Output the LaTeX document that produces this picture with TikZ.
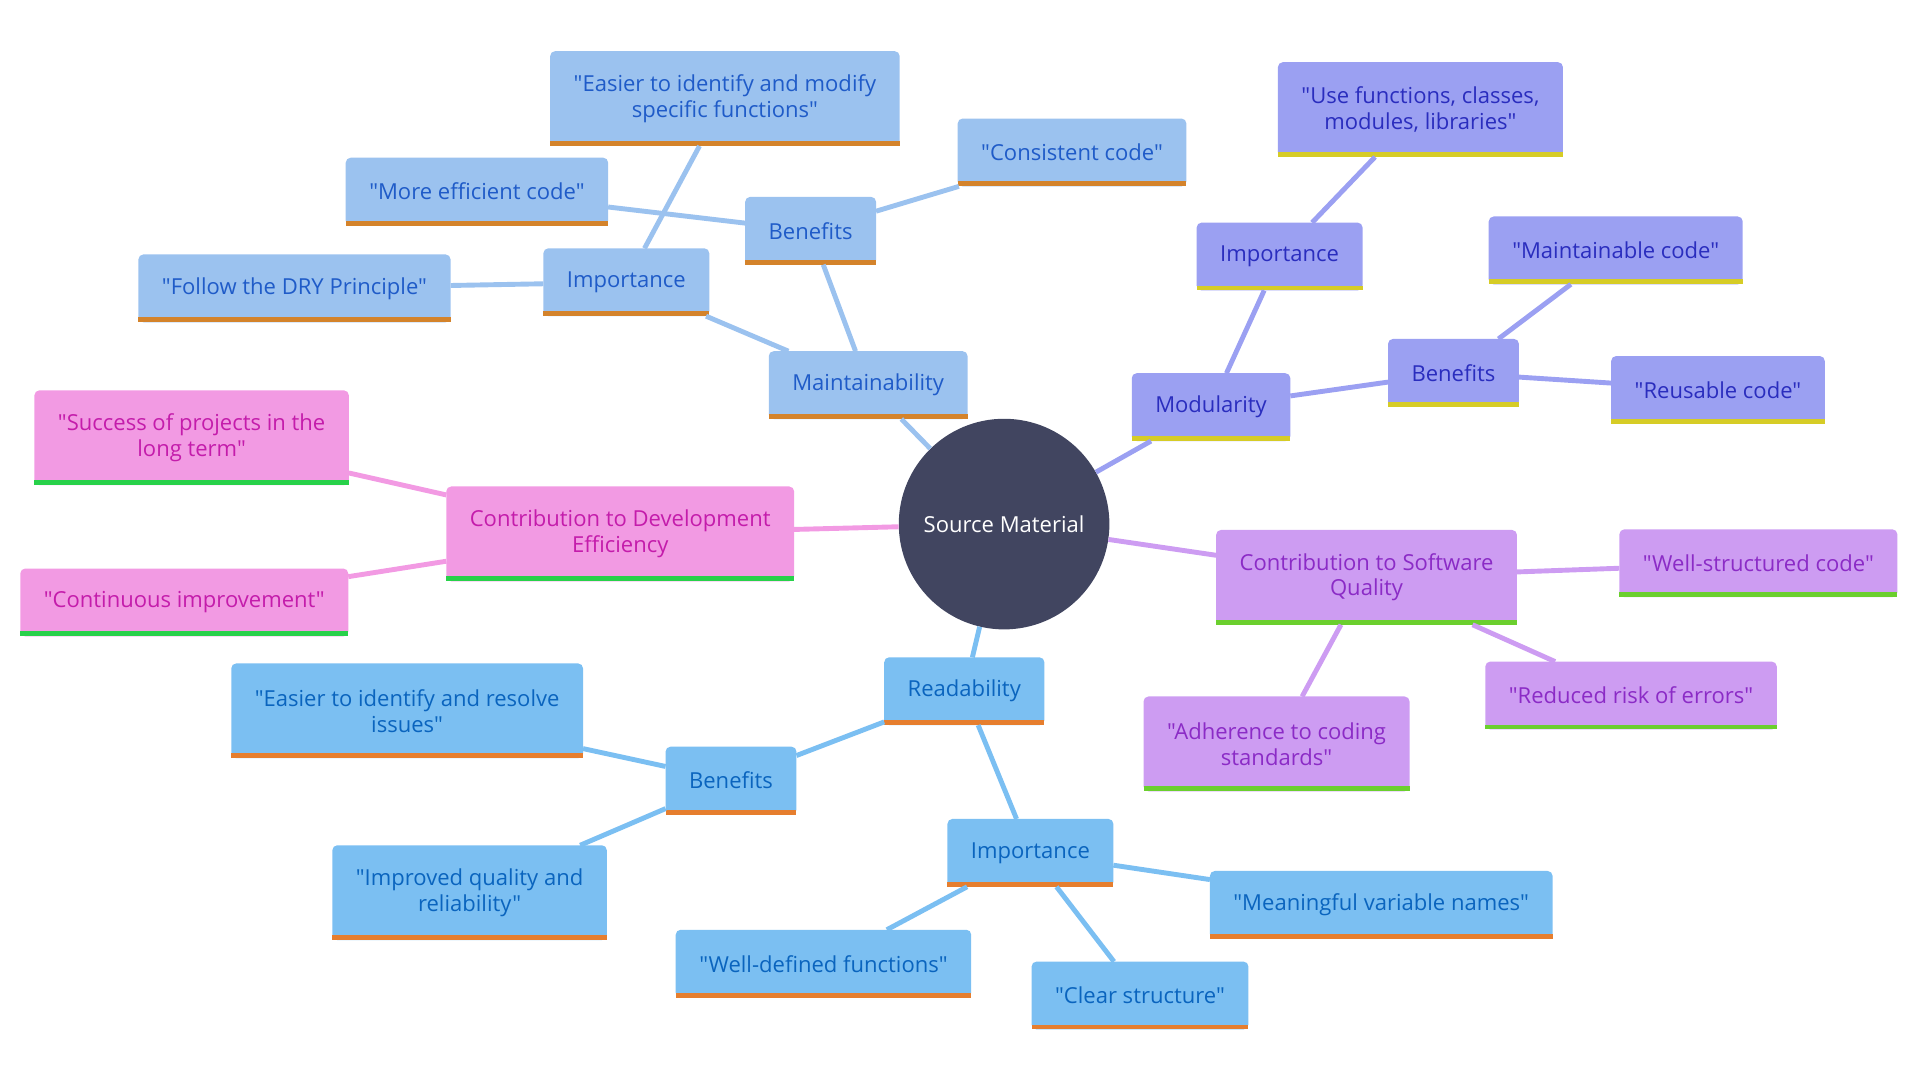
\documentclass[tikz,border=0pt]{standalone}
\usepackage{fontspec}
\setmainfont{Open Sans}[Ligatures=TeXOff]
\usetikzlibrary{positioning}

\definecolor{srcfill}{HTML}{414560}
\definecolor{mainfill}{HTML}{9BC2EF}
\definecolor{maintext}{HTML}{1F5BC8}
\definecolor{mainbar}{HTML}{D4832B}
\definecolor{readfill}{HTML}{7BBFF2}
\definecolor{readtext}{HTML}{0A64BE}
\definecolor{readbar}{HTML}{E67E2E}
\definecolor{modfill}{HTML}{9BA0F2}
\definecolor{modtext}{HTML}{2A2DBE}
\definecolor{modbar}{HTML}{D6CC26}
\definecolor{devfill}{HTML}{F29AE3}
\definecolor{devtext}{HTML}{C41CAB}
\definecolor{devbar}{HTML}{28D14A}
\definecolor{sqfill}{HTML}{CD9CF2}
\definecolor{sqtext}{HTML}{8B2BC6}
\definecolor{sqbar}{HTML}{6BCF2E}

\begin{document}
\begin{tikzpicture}[x=1pt, y=-1pt,
% Define a custom style for the boxes
    mmbox/.style={
        rectangle,
        inner xsep=19pt,
        inner ysep=0pt,
        align=center,
        minimum height=55pt,
        font=\fontsize{18}{21}\selectfont
        },
    twoline/.style={minimum height=77pt},
% box fill with rounded top and a coloured bar along the bottom
    boxfill/.style 2 args={append after command={
        \pgfextra{
            \fill[#1, rounded corners=4pt] (\tikzlastnode.south west) rectangle (\tikzlastnode.north east);
            \fill[#2] (\tikzlastnode.south west) rectangle ([yshift=4pt]\tikzlastnode.south east);
        }
        }},
    mainbox/.style={mmbox, text=maintext, boxfill={mainfill}{mainbar}},
    readbox/.style={mmbox, text=readtext, boxfill={readfill}{readbar}},
    modbox/.style={mmbox, text=modtext, boxfill={modfill}{modbar}},
    devbox/.style={mmbox, text=devtext, boxfill={devfill}{devbar}},
    sqbox/.style={mmbox, text=sqtext, boxfill={sqfill}{sqbar}},
    link/.style={line width=4pt, draw=#1}
]
\useasboundingbox (0,0) rectangle (1568,882);

\node[circle, fill=srcfill, text=white, minimum size=172pt, font=\fontsize{18}{21}\selectfont] (src) at (820,428) {Source Material};

% Maintainability
\node[mainbox] (main) at (709,314.5) {Maintainability};
\node[mainbox] (mainimp) at (511.5,230.5) {Importance};
\node[mainbox] (mainben) at (662,188.5) {Benefits};
\node[mainbox] (dry) at (240.5,235.5) {"Follow the DRY Principle"};
\node[mainbox, twoline] (modify) at (592,80.5) {"Easier to identify and modify\\specific functions"};
\node[mainbox] (efficient) at (389.5,156.5) {"More efficient code"};
\node[mainbox] (consistent) at (875.5,124.5) {"Consistent code"};

% Modularity
\node[modbox] (mod) at (989,332.5) {Modularity};
\node[modbox] (modimp) at (1045,209.5) {Importance};
\node[modbox] (modben) at (1187,304.5) {Benefits};
\node[modbox, twoline] (usefn) at (1160,89.5) {"Use functions, classes,\\modules, libraries"};
\node[modbox] (maincode) at (1319.5,204.5) {"Maintainable code"};
\node[modbox] (reusable) at (1403,318.5) {"Reusable code"};

% Development efficiency
\node[devbox, twoline] (dev) at (506.5,436) {Contribution to Development\\Efficiency};
\node[devbox, twoline] (success) at (156.5,357.5) {"Success of projects in the\\long term"};
\node[devbox] (continuous) at (150.5,492) {"Continuous improvement"};

% Software quality
\node[sqbox, twoline] (sq) at (1116,471.5) {Contribution to Software\\Quality};
\node[sqbox] (wellstruct) at (1436,460) {"Well-structured code"};
\node[sqbox] (reduced) at (1332,568) {"Reduced risk of errors"};
\node[sqbox, twoline] (adhere) at (1042.5,607.5) {"Adherence to coding\\standards"};

% Readability
\node[readbox] (read) at (787.5,564.5) {Readability};
\node[readbox] (readben) at (597,637.5) {Benefits};
\node[readbox] (readimp) at (841.5,696.5) {Importance};
\node[readbox, twoline] (resolve) at (332.5,580.5) {"Easier to identify and resolve\\issues"};
\node[readbox, twoline] (improved) at (383.5,729) {"Improved quality and\\reliability"};
\node[readbox] (names) at (1128,739) {"Meaningful variable names"};
\node[readbox] (welldef) at (672.5,787) {"Well-defined functions"};
\node[readbox] (clear) at (931,813) {"Clear structure"};

\draw[link=mainfill] (src) -- (main);
\draw[link=mainfill] (main) -- (mainimp);
\draw[link=mainfill] (main) -- (mainben);
\draw[link=mainfill] (mainimp) -- (dry);
\draw[link=mainfill] (mainimp) -- (modify);
\draw[link=mainfill] (mainben) -- (efficient);
\draw[link=mainfill] (mainben) -- (consistent);

\draw[link=modfill] (src) -- (mod);
\draw[link=modfill] (mod) -- (modimp);
\draw[link=modfill] (modimp) -- (usefn);
\draw[link=modfill] (mod) -- (modben);
\draw[link=modfill] (modben) -- (maincode);
\draw[link=modfill] (modben) -- (reusable);

\draw[link=devfill] (src) -- (dev);
\draw[link=devfill] (dev) -- (success);
\draw[link=devfill] (dev) -- (continuous);

\draw[link=sqfill] (src) -- (sq);
\draw[link=sqfill] (sq) -- (wellstruct);
\draw[link=sqfill] (sq) -- (reduced);
\draw[link=sqfill] (sq) -- (adhere);

\draw[link=readfill] (src) -- (read);
\draw[link=readfill] (read) -- (readben);
\draw[link=readfill] (read) -- (readimp);
\draw[link=readfill] (readben) -- (resolve);
\draw[link=readfill] (readben) -- (improved);
\draw[link=readfill] (readimp) -- (names);
\draw[link=readfill] (readimp) -- (welldef);
\draw[link=readfill] (readimp) -- (clear);

\end{tikzpicture}
\end{document}
